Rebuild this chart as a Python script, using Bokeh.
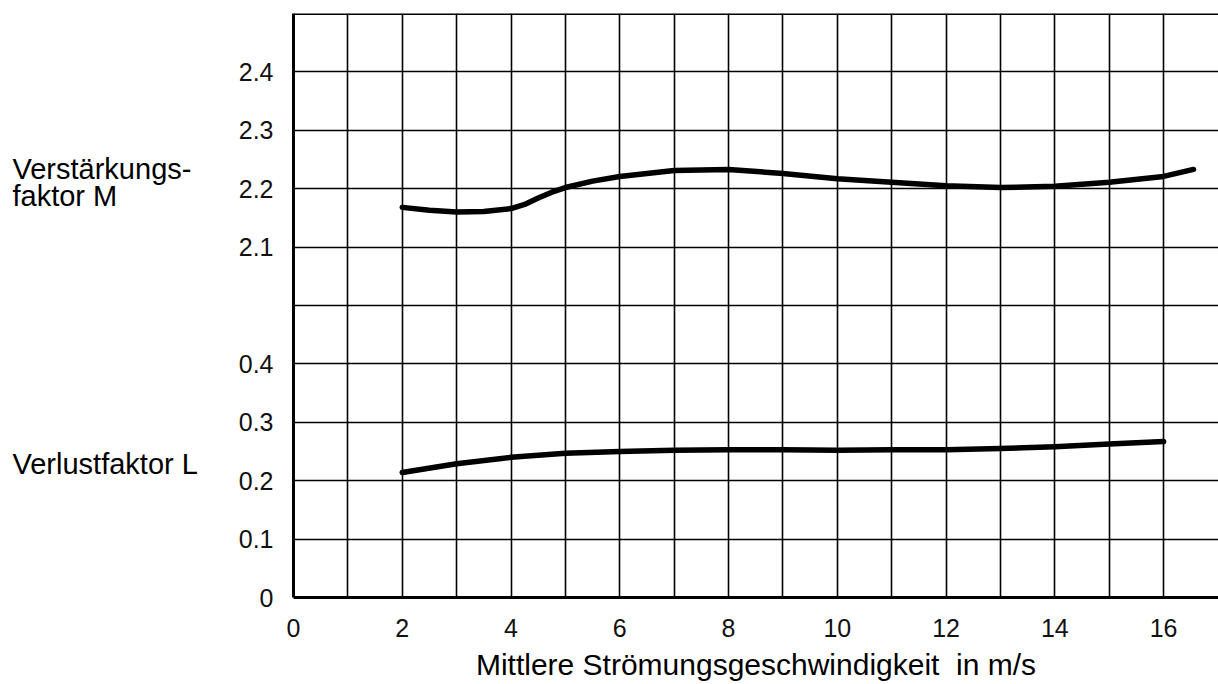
from bokeh.plotting import figure
from bokeh.models import FixedTicker, Range1d, Span, Label
from bokeh.layouts import row
from bokeh.embed import file_html
from bokeh.resources import INLINE
import numpy as np

# Data
speed_m = [2, 2.5, 3, 3.5, 4, 4.25, 4.5, 4.75, 5, 5.5, 6, 7, 8, 9, 10, 11, 12, 13, 14, 15, 16, 16.55]
factor_m = [2.168, 2.163, 2.160, 2.161, 2.166, 2.173, 2.184, 2.194, 2.202, 2.213, 2.221,
            2.231, 2.233, 2.226, 2.217, 2.211, 2.205, 2.202, 2.204, 2.211, 2.221, 2.233]
speed_l = [2, 3, 4, 5, 6, 7, 8, 9, 10, 11, 12, 13, 14, 15, 16]
factor_l = [0.214, 0.229, 0.240, 0.247, 0.250, 0.252, 0.253, 0.253, 0.252, 0.253,
            0.253, 0.255, 0.258, 0.263, 0.267]

x_ticks = [0, 2, 4, 6, 8, 10, 12, 14, 16]
y_tick_pos = [0, 1, 2, 3, 4, 6, 7, 8, 9]
y_tick_labels = ["0", "0.1", "0.2", "0.3", "0.4", "2.1", "2.2", "2.3", "2.4"]

# broken axis: lower part 0..0.5 -> 0..5 ; upper part 2.0..2.5 -> 5..10
u_m = (np.array(factor_m) - 1.5) * 10
u_l = np.array(factor_l) * 10

FONT = "Liberation Sans"
H = 684
TOP = 13
BOTTOM = 87
LEFT_W = 205

y_range = Range1d(0, 10)

# left strip holding the two side titles
side = figure(width=LEFT_W, height=H, output_backend="svg", toolbar_location=None,
              x_range=Range1d(0, LEFT_W), y_range=y_range,
              x_axis_type=None, y_axis_type=None,
              min_border_left=0, min_border_right=0, min_border_top=TOP, min_border_bottom=BOTTOM)
side.outline_line_color = None
side.xgrid.visible = False
side.ygrid.visible = False
for txt, yy in [("Verstärkungs-", 7.33), ("faktor M", 6.87), ("Verlustfaktor L", 2.29)]:
    side.add_layout(Label(x=12, y=yy, text=txt, text_font=FONT, text_font_size="29px",
                          text_baseline="alphabetic", text_align="left", text_color="black"))

p = figure(width=1218 - LEFT_W, height=H, output_backend="svg", toolbar_location=None,
           x_range=Range1d(0, 17.01), y_range=y_range,
           min_border_left=293 - LEFT_W, min_border_right=0,
           min_border_top=TOP, min_border_bottom=BOTTOM)
p.outline_line_color = None
p.background_fill_color = "white"

# grid
p.xgrid.ticker = FixedTicker(ticks=list(range(0, 17)))
p.ygrid.ticker = FixedTicker(ticks=list(range(1, 10)))
for g in (p.xgrid, p.ygrid):
    g.grid_line_color = "black"
    g.grid_line_width = 1.6

# axes
p.xaxis.ticker = FixedTicker(ticks=x_ticks)
p.yaxis.ticker = FixedTicker(ticks=y_tick_pos)
p.yaxis.major_label_overrides = {k: v for k, v in zip(y_tick_pos, y_tick_labels)}
for ax in (p.xaxis, p.yaxis):
    ax.axis_line_color = "black"
    ax.axis_line_width = 3
    ax.major_tick_line_color = None
    ax.minor_tick_line_color = None
    ax.major_tick_out = 0
    ax.major_tick_in = 0
    ax.major_label_text_font = FONT
    ax.major_label_text_font_size = "25px"
    ax.major_label_text_color = "#111111"
p.yaxis.major_label_standoff = 20
p.xaxis.major_label_standoff = 21
p.xaxis.axis_label = "Mittlere Strömungsgeschwindigkeit\u00a0 in m/s"
p.xaxis.axis_label_text_font = FONT
p.xaxis.axis_label_text_font_size = "30px"
p.xaxis.axis_label_text_font_style = "normal"
p.xaxis.axis_label_text_color = "black"
p.xaxis.axis_label_standoff = 8

# top border
p.add_layout(Span(location=10, dimension="width", line_color="black", line_width=3))

# curves
p.line(speed_m, u_m, line_color="black", line_width=5.5, line_cap="round", line_join="round")
p.line(speed_l, u_l, line_color="black", line_width=5.5, line_cap="round", line_join="round")

layout = row(side, p, spacing=0)
open("out.html", "w").write(file_html(layout, INLINE))
